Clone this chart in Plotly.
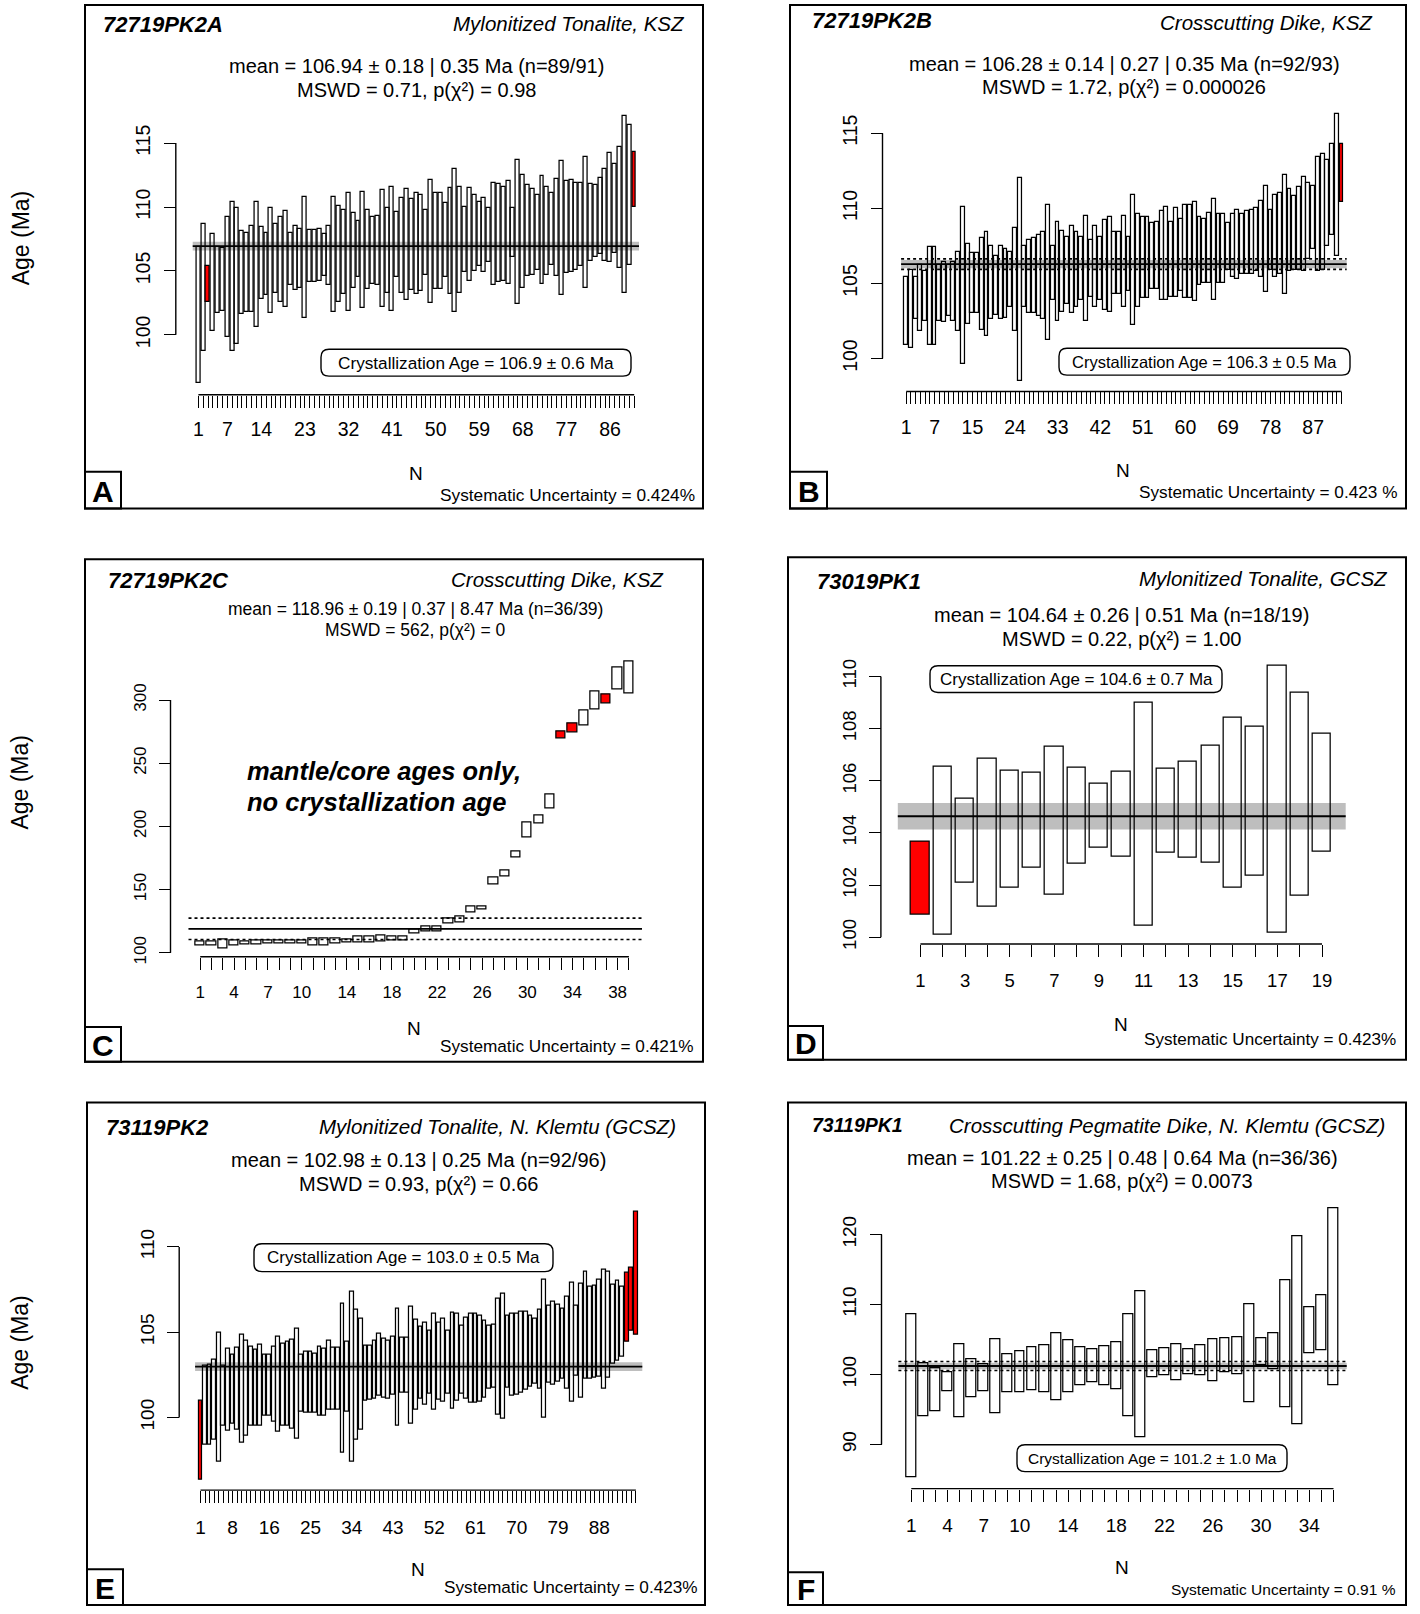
import plotly.graph_objects as go

W, H = 1420, 1614
FONT = "Liberation Sans, Arial, Helvetica, sans-serif"

# ---------------- data (upper / lower limits of each analysis, Ma) ----------------
A_upper = [106.9, 108.7, 105.4, 107.9, 106.9, 106.8, 109.2, 110.4, 109.9, 108.1,
           108.0, 108.5, 110.4, 108.4, 108.0, 109.9, 108.7, 109.2, 109.7, 108.0,
           108.5, 108.3, 110.8, 108.2, 108.2, 108.3, 107.9, 108.5, 110.8, 110.1,
           109.8, 111.1, 109.5, 108.9, 111.2, 109.8, 109.2, 109.3, 111.3, 109.9,
           111.6, 109.6, 110.7, 111.4, 110.6, 111.1, 110.9, 109.8, 112.1, 111.1,
           111.1, 110.3, 111.5, 113.0, 111.6, 110.0, 111.5, 110.9, 110.4, 110.7,
           109.9, 111.9, 111.8, 111.6, 112.0, 109.9, 113.7, 112.5, 111.7, 111.4,
           110.9, 112.4, 111.6, 111.1, 112.2, 113.6, 112.0, 112.1, 111.9, 111.9,
           113.9, 111.8, 111.7, 112.3, 113.0, 114.2, 113.4, 114.7, 117.1, 116.4,
           114.3]
A_lower = [96.2, 98.7, 102.6, 100.3, 101.7, 101.9, 99.8, 98.7, 99.3, 101.6,
           101.8, 101.8, 100.6, 102.8, 103.1, 101.7, 103.3, 102.6, 102.2, 103.9,
           103.5, 103.7, 101.3, 104.1, 104.1, 104.2, 104.6, 103.9, 101.8, 102.6,
           103.2, 101.9, 103.7, 104.5, 102.1, 103.6, 104.0, 103.9, 102.2, 103.3,
           101.9, 104.5, 103.3, 102.7, 103.5, 103.2, 103.4, 104.7, 102.5, 103.6,
           103.6, 104.5, 103.2, 101.8, 103.3, 104.9, 104.2, 105.0, 105.4, 104.9,
           105.7, 103.9, 104.1, 104.2, 104.0, 106.1, 102.4, 103.7, 104.6, 104.7,
           105.1, 104.0, 104.7, 105.5, 104.6, 103.1, 104.8, 104.9, 105.1, 105.4,
           103.7, 105.8, 106.1, 106.3, 105.8, 105.7, 106.4, 105.2, 103.3, 105.5,
           110.0]
A_rejected = [3, 91]
A_xlabels = [1, 7, 14, 23, 32, 41, 50, 59, 68, 77, 86]
A_yticks = [100, 105, 110, 115]

B_upper = [105.4, 105.9, 105.4, 106.2, 105.8, 107.4, 107.4, 106.2, 106.4, 106.2,
           106.4, 107.1, 110.1, 107.6, 107.0, 107.0, 108.0, 108.4, 107.5, 106.8,
           107.5, 107.3, 107.1, 108.7, 112.0, 107.5, 107.9, 108.0, 108.2, 108.4,
           110.2, 107.5, 109.1, 108.5, 108.1, 108.8, 108.4, 108.1, 109.5, 107.9,
           108.8, 108.1, 109.2, 109.4, 108.4, 108.4, 109.5, 108.1, 110.9, 109.6,
           109.4, 109.4, 109.0, 109.1, 109.8, 110.1, 109.1, 110.0, 109.3, 110.2,
           110.2, 110.4, 109.4, 109.3, 109.7, 110.6, 109.6, 109.6, 109.0, 109.6,
           109.9, 109.6, 109.8, 109.9, 110.0, 110.5, 111.5, 109.9, 110.9, 111.0,
           112.2, 111.3, 110.8, 111.4, 112.1, 111.7, 111.5, 113.4, 113.6, 113.2,
           114.3, 116.3, 114.3]
B_lower = [100.9, 100.7, 102.6, 101.8, 102.5, 100.9, 100.9, 102.5, 102.4, 102.8,
           102.5, 101.8, 99.6, 102.3, 103.0, 103.0, 101.9, 101.5, 102.6, 102.9,
           102.6, 102.7, 103.4, 101.8, 98.5, 103.4, 103.0, 103.0, 102.8, 102.6,
           101.2, 103.9, 102.5, 103.1, 103.6, 103.0, 103.4, 103.9, 102.5, 104.1,
           103.4, 103.9, 103.2, 103.1, 104.3, 104.3, 103.4, 104.5, 102.2, 103.4,
           104.0, 104.0, 104.6, 104.6, 103.9, 103.9, 104.1, 104.1, 104.5, 104.0,
           104.0, 103.8, 104.9, 105.0, 105.0, 103.9, 105.0, 105.0, 105.9, 105.4,
           105.3, 105.6, 105.6, 105.6, 105.8, 105.4, 104.4, 105.9, 105.4, 105.6,
           104.3, 105.8, 105.9, 105.9, 105.8, 106.6, 107.3, 105.8, 105.9, 107.5,
           108.2, 106.8, 110.4]
B_rejected = [93]
B_xlabels = [1, 7, 15, 24, 33, 42, 51, 60, 69, 78, 87]
B_yticks = [100, 105, 110, 115]

C_upper = [108.6, 108.6, 110.7, 109.9, 109.2, 109.9, 109.4, 109.4, 109.9, 109.9,
           111.2, 111.2, 111.2, 110.7, 112.5, 113.1, 113.9, 113.1, 113.1, 118.3,
           121.2, 121.2, 126.9, 128.8, 136.6, 136.9, 159.6, 164.8, 180.5, 203.3,
           208.8, 225.0, 275.2, 281.2, 291.6, 306.5, 304.7, 325.6, 330.3]
C_lower = [106.0, 106.0, 103.4, 106.0, 106.5, 106.5, 107.1, 107.1, 107.3, 107.3,
           106.0, 106.0, 107.3, 107.8, 107.8, 107.8, 109.2, 109.9, 109.9, 115.2,
           117.0, 117.0, 123.0, 124.3, 132.2, 134.0, 153.9, 160.4, 175.3, 191.0,
           202.0, 214.5, 269.4, 274.1, 279.9, 292.9, 296.9, 308.6, 305.2]
C_rejected = [33, 34, 37]
C_xlabels = [1, 4, 7, 10, 14, 18, 22, 26, 30, 34, 38]
C_yticks = [100, 150, 200, 250, 300]

D_upper = [103.65, 106.55, 105.32, 106.85, 106.39, 106.30, 107.32, 106.49, 105.88, 106.35,
           108.99, 106.48, 106.75, 107.35, 108.43, 108.09, 110.40, 109.37, 107.81]
D_lower = [100.85, 100.10, 102.08, 101.19, 101.91, 102.65, 101.63, 102.81, 103.43, 103.08,
           100.45, 103.23, 103.07, 102.85, 101.90, 102.36, 100.17, 101.59, 103.30]
D_rejected = [1]
D_xlabels = [1, 3, 5, 7, 9, 11, 13, 15, 17, 19]
D_yticks = [100, 102, 104, 106, 108, 110]

E_upper = [100.97, 103.04, 103.08, 103.39, 104.95, 103.04, 104.00, 103.67, 104.06, 104.85,
           104.48, 104.12, 103.98, 104.26, 103.67, 103.67, 104.12, 104.71, 104.32, 104.42,
           104.56, 105.21, 103.67, 103.87, 103.87, 103.73, 104.12, 104.02, 104.48, 104.06,
           104.06, 106.69, 104.42, 107.38, 106.29, 105.76, 104.18, 104.22, 104.48, 104.91,
           104.58, 104.52, 104.75, 106.39, 104.67, 104.67, 106.49, 105.70, 105.31, 105.54,
           105.07, 106.09, 105.54, 105.76, 105.07, 106.15, 106.06, 105.40, 105.84, 106.09,
           106.09, 105.96, 105.64, 105.36, 105.44, 106.98, 107.22, 105.96, 106.09, 106.09,
           106.19, 106.19, 105.96, 105.76, 106.29, 108.07, 106.55, 106.78, 106.63, 106.39,
           107.08, 107.87, 106.53, 107.81, 108.52, 107.67, 107.73, 108.07, 108.66, 108.56,
           107.77, 108.01, 107.67, 108.50, 108.76, 112.07]
E_lower = [96.37, 98.40, 98.40, 98.70, 97.42, 99.49, 99.23, 99.63, 99.29, 98.50,
           98.93, 99.49, 99.53, 99.49, 100.08, 100.08, 99.72, 99.15, 99.53, 99.53,
           99.33, 98.76, 100.32, 100.28, 100.28, 100.28, 100.12, 100.08, 100.47, 100.47,
           100.47, 97.91, 100.32, 97.38, 98.70, 99.29, 100.97, 101.03, 101.10, 101.26,
           101.16, 101.10, 101.30, 99.53, 101.46, 101.46, 99.63, 100.47, 101.07, 100.73,
           101.36, 100.47, 101.03, 100.91, 101.36, 100.53, 101.00, 101.40, 101.07, 100.83,
           100.83, 100.91, 101.16, 101.66, 101.76, 100.14, 99.94, 101.72, 101.26, 101.30,
           101.46, 101.60, 101.80, 101.99, 101.70, 99.98, 102.05, 101.89, 102.09, 102.29,
           101.70, 100.93, 102.45, 101.16, 102.29, 102.29, 102.35, 102.41, 101.70, 102.35,
           103.14, 103.29, 103.53, 104.42, 105.05, 104.85]
E_rejected = [1, 94, 95, 96]
E_xlabels = [1, 8, 16, 25, 34, 43, 52, 61, 70, 79, 88]
E_yticks = [100, 105, 110]

F_upper = [108.60, 101.63, 100.87, 100.29, 104.28, 102.21, 101.39, 105.00, 102.84, 103.32,
           103.94, 104.13, 105.82, 104.95, 103.94, 103.56, 103.99, 104.62, 108.56, 111.92,
           103.51, 103.75, 104.33, 103.56, 104.13, 105.00, 105.10, 105.29, 110.05, 105.19,
           105.91, 113.51, 119.76, 109.66, 111.35, 123.70]
F_lower = [85.24, 94.04, 94.76, 97.64, 93.89, 96.78, 97.55, 94.52, 97.50, 97.50,
           97.74, 97.50, 96.35, 97.50, 98.46, 98.85, 98.51, 97.88, 94.04, 91.06,
           99.57, 99.81, 99.18, 100.05, 99.81, 99.09, 100.29, 100.05, 95.96, 101.25,
           100.67, 95.34, 92.84, 103.03, 103.41, 98.51]
F_rejected = []
F_xlabels = [1, 4, 7, 10, 14, 18, 22, 26, 30, 34]
F_yticks = [90, 100, 110, 120]

# weighted means and uncertainties (mean, band half-width, dotted half-width)
A_mean = [106.94, 0.35, None]
B_mean = [106.28, 0.27, 0.35]
C_mean = [118.96, 0.37, 8.47]
D_mean = [104.64, 0.51, None]
E_mean = [102.98, 0.25, None]
F_mean = [101.22, 0.48, 0.64]

# ---------------- panel geometry / texts (pixel positions in the 1420x1614 page) ----------------
panels = [
    dict(letter="A", upper=A_upper, lower=A_lower, rej=A_rejected, xlabels=A_xlabels, yticks=A_yticks, mean=A_mean,
         yref=(100, 336.5, 115, 143.8), xbar=(198.4, 634.2), xdom=(192.7, 639.0), yaxis_x=175.8, xaxis_y=396.7, ytop=117.9,
         tick=19.5, xstand=5, frame=(85, 5, 703, 511), lbox=(85, 474, 121, 511),
         sid="72719PK2A", sid_xy=(101, 25), desc="Mylonitized Tonalite, KSZ", desc_xy=(687, 24),
         stat1="mean = 106.94 ± 0.18 | 0.35 Ma (n=89/91)", stat2="MSWD = 0.71, p(χ²) = 0.98",
         stat_x=416, stat_y=(66, 90), stat_size=20,
         n_xy=(416, 476), sys="Systematic Uncertainty = 0.424%", sys_xy=(697, 497), sys_size=17.3,
         cryst="Crystallization Age = 106.9 ± 0.6 Ma", cbox=(321, 351, 631, 378), csize=17.2),
    dict(letter="B", upper=B_upper, lower=B_lower, rej=B_rejected, xlabels=B_xlabels, yticks=B_yticks, mean=B_mean,
         yref=(100, 360.3, 115, 133.8), xbar=(906.2, 1341.6), xdom=(901.1, 1346.7), yaxis_x=882.5, xaxis_y=393.4, ytop=117.0,
         tick=19.5, xstand=6, frame=(790, 5, 1406, 511), lbox=(790, 474, 827, 511),
         sid="72719PK2B", sid_xy=(810, 21), desc="Crosscutting Dike, KSZ", desc_xy=(1375, 23),
         stat1="mean = 106.28 ± 0.14 | 0.27 | 0.35 Ma (n=92/93)", stat2="MSWD = 1.72, p(χ²) = 0.000026",
         stat_x=1124, stat_y=(64, 87), stat_size=20,
         n_xy=(1123, 473), sys="Systematic Uncertainty = 0.423 %", sys_xy=(1399, 494), sys_size=17.2,
         cryst="Crystallization Age = 106.3 ± 0.5 Ma", cbox=(1059, 350, 1350, 377), csize=16.5),
    dict(letter="C", upper=C_upper, lower=C_lower, rej=C_rejected, xlabels=C_xlabels, yticks=C_yticks, mean=C_mean,
         yref=(100, 957.5, 300, 703.5), xbar=(200.2, 628.9), xdom=(188.5, 642.0), yaxis_x=170.5, xaxis_y=961.5, ytop=340,
         tick=17, xstand=8, frame=(85, 562, 703, 1067), lbox=(85, 1032, 121, 1067),
         sid="72719PK2C", sid_xy=(106, 583), desc="Crosscutting Dike, KSZ", desc_xy=(666, 582),
         stat1="mean = 118.96 ± 0.19 | 0.37 | 8.47 Ma (n=36/39)", stat2="MSWD = 562, p(χ²) = 0",
         stat_x=415, stat_y=(612, 633), stat_size=17.5,
         n_xy=(414, 1034), sys="Systematic Uncertainty = 0.421%", sys_xy=(696, 1051), sys_size=17.2,
         cryst=None),
    dict(letter="D", upper=D_upper, lower=D_lower, rej=D_rejected, xlabels=D_xlabels, yticks=D_yticks, mean=D_mean,
         yref=(100, 941.9, 110, 679.9), xbar=(920.4, 1322.0), xdom=(897.8, 1345.7), yaxis_x=880.9, xaxis_y=948.7, ytop=110.8,
         tick=18.5, xstand=8, frame=(788, 560, 1406, 1065), lbox=(788, 1031, 823, 1065),
         sid="73019PK1", sid_xy=(815, 584), desc="Mylonitized Tonalite, GCSZ", desc_xy=(1390, 581),
         stat1="mean = 104.64 ± 0.26 | 0.51 Ma (n=18/19)", stat2="MSWD = 0.22, p(χ²) = 1.00",
         stat_x=1121, stat_y=(618, 642), stat_size=20,
         n_xy=(1121, 1030), sys="Systematic Uncertainty = 0.423%", sys_xy=(1398, 1045), sys_size=17.1,
         cryst="Crystallization Age = 104.6 ± 0.7 Ma", cbox=(930, 669, 1222, 696), csize=17),
    dict(letter="E", upper=E_upper, lower=E_lower, rej=E_rejected, xlabels=E_xlabels, yticks=E_yticks, mean=E_mean,
         yref=(100, 1424.5, 110, 1253.1), xbar=(200.5, 635.9), xdom=(195.1, 642.3), yaxis_x=179.2, xaxis_y=1497.5, ytop=112.7,
         tick=19, xstand=8, frame=(87, 1108, 705, 1613), lbox=(87, 1577, 123, 1613),
         sid="73119PK2", sid_xy=(104, 1133), desc="Mylonitized Tonalite, N. Klemtu (GCSZ)", desc_xy=(678, 1132),
         stat1="mean = 102.98 ± 0.13 | 0.25 Ma (n=92/96)", stat2="MSWD = 0.93, p(χ²) = 0.66",
         stat_x=418, stat_y=(1166, 1190), stat_size=20,
         n_xy=(418, 1577), sys="Systematic Uncertainty = 0.423%", sys_xy=(700, 1595), sys_size=17.2,
         cryst="Crystallization Age = 103.0 ± 0.5 Ma", cbox=(254, 1250, 553, 1278), csize=17),
    dict(letter="F", upper=F_upper, lower=F_lower, rej=F_rejected, xlabels=F_xlabels, yticks=F_yticks, mean=F_mean,
         yref=(90, 1451.7, 120, 1240.7), xbar=(911.3, 1333.5), xdom=(898.4, 1346.7), yaxis_x=881.5, xaxis_y=1496.0, ytop=124.6,
         tick=19, xstand=8, frame=(788, 1108, 1406, 1613), lbox=(788, 1580, 823, 1613),
         sid="73119PK1", sid_xy=(810, 1131), desc="Crosscutting Pegmatite Dike, N. Klemtu (GCSZ)", desc_xy=(1387, 1131),
         stat1="mean = 101.22 ± 0.25 | 0.48 | 0.64 Ma (n=36/36)", stat2="MSWD = 1.68, p(χ²) = 0.0073",
         stat_x=1122, stat_y=(1164, 1187), stat_size=20,
         n_xy=(1122, 1575), sys="Systematic Uncertainty = 0.91 %", sys_xy=(1398, 1597), sys_size=15.5,
         cryst="Crystallization Age = 101.2 ± 1.0 Ma", cbox=(1017, 1452, 1287, 1479), csize=15.5),
]
ID_SIZES = {"A": 22, "B": 22, "C": 22, "D": 22, "E": 22, "F": 19.5}


def PX(p):
    return p / W


def PY(p):
    return 1 - p / H


fig = go.Figure()
shapes = []
annotations = []


def ann(text, x, y, size, xanchor="center", yanchor="middle", **kw):
    annotations.append(dict(text=text, x=PX(x), y=PY(y), xref="paper", yref="paper", showarrow=False,
                            xanchor=xanchor, yanchor=yanchor,
                            font=dict(family=FONT, size=size, color="black"), **kw))


def rect_px(x0, y0, x1, y1, width=2):
    shapes.append(dict(type="rect", xref="paper", yref="paper", x0=PX(x0), x1=PX(x1), y0=PY(y1), y1=PY(y0),
                       line=dict(color="black", width=width), fillcolor="rgba(0,0,0,0)", layer="above"))


def round_box(x0, y0, x1, y1, r=8):
    X, Y = PX, PY
    path = (f"M {X(x0 + r)},{Y(y0)} L {X(x1 - r)},{Y(y0)} Q {X(x1)},{Y(y0)} {X(x1)},{Y(y0 + r)} "
            f"L {X(x1)},{Y(y1 - r)} Q {X(x1)},{Y(y1)} {X(x1 - r)},{Y(y1)} "
            f"L {X(x0 + r)},{Y(y1)} Q {X(x0)},{Y(y1)} {X(x0)},{Y(y1 - r)} "
            f"L {X(x0)},{Y(y0 + r)} Q {X(x0)},{Y(y0)} {X(x0 + r)},{Y(y0)} Z")
    shapes.append(dict(type="path", xref="paper", yref="paper", path=path,
                       line=dict(color="black", width=1.4), fillcolor="white", layer="above"))


layout_axes = {}
for i, p in enumerate(panels):
    sfx = "" if i == 0 else str(i + 1)
    n = len(p["upper"])
    idx = list(range(1, n + 1))

    # y scale
    v1, p1, v2, p2 = p["yref"]
    ky = (p1 - p2) / (v2 - v1)
    ylo = v1 - (p["xaxis_y"] - p1) / ky
    ytop = p["ytop"]
    ytop_px = p1 - (ytop - v1) * ky
    # x scale
    b1, bn = p["xbar"]
    kx = (bn - b1) / (n - 1)
    xd0, xd1 = p["xdom"]
    xr = [1 + (xd0 - b1) / kx, 1 + (xd1 - b1) / kx]

    colors = ["#FF0000" if k in p["rej"] else "rgba(0,0,0,0)" for k in idx]
    fig.add_trace(go.Bar(
        x=idx, y=[u - l for u, l in zip(p["upper"], p["lower"])], base=p["lower"], width=0.82,
        marker=dict(color=colors, line=dict(color="black", width=1.25)),
        xaxis="x" + sfx, yaxis="y" + sfx, hoverinfo="skip", showlegend=False))

    tfont = dict(family=FONT, size=p["tick"], color="black")
    layout_axes["xaxis" + sfx] = dict(
        domain=[PX(xd0), PX(xd1)], range=xr, anchor="y" + sfx, showline=False, showgrid=False, zeroline=False,
        ticks="outside", ticklen=12, tickwidth=1.3, tickcolor="black", tickmode="array", tickvals=p["xlabels"],
        ticktext=[str(k) for k in p["xlabels"]], tickangle=0, tickfont=tfont,
        minor=dict(tickmode="array", tickvals=idx, ticks="outside", ticklen=12, tickwidth=1.3,
                   tickcolor="black", showgrid=False),
        ticklabelstandoff=p["xstand"], fixedrange=True)
    layout_axes["yaxis" + sfx] = dict(
        domain=[PY(p["xaxis_y"]), PY(ytop_px)], range=[ylo, ytop], anchor="free", position=PX(p["yaxis_x"]),
        showline=False, showgrid=False, zeroline=False, ticks="outside", ticklen=12, tickwidth=1.3,
        tickcolor="black", tickmode="array", tickvals=p["yticks"], ticktext=[str(v) for v in p["yticks"]],
        tickangle=-90, tickfont=tfont, ticklabelstandoff=6, fixedrange=True)

    xdom_ref = ("x" if i == 0 else "x" + sfx) + " domain"
    yref = "y" + sfx
    mean, band, dots = p["mean"]
    shapes.append(dict(type="rect", xref=xdom_ref, yref=yref, x0=0, x1=1, y0=mean - band, y1=mean + band,
                       fillcolor="#BEBEBE", line=dict(width=0), layer="below"))
    if dots is not None:
        for s in (-1, 1):
            shapes.append(dict(type="line", xref=xdom_ref, yref=yref, x0=0, x1=1, y0=mean + s * dots,
                               y1=mean + s * dots, line=dict(color="black", width=1.6, dash="dot"), layer="above"))
    shapes.append(dict(type="line", xref=xdom_ref, yref=yref, x0=0, x1=1, y0=mean, y1=mean,
                       line=dict(color="black", width=1.8), layer="above"))
    # axis lines (R style, only between extreme ticks)
    shapes.append(dict(type="line", xref="paper", yref=yref, x0=PX(p["yaxis_x"]), x1=PX(p["yaxis_x"]),
                       y0=p["yticks"][0], y1=p["yticks"][-1], line=dict(color="black", width=1.4)))
    shapes.append(dict(type="line", xref="x" + sfx, yref="paper", x0=1, x1=n, y0=PY(p["xaxis_y"]),
                       y1=PY(p["xaxis_y"]), line=dict(color="black", width=1.4)))

    # frames
    fx0, fy0, fx1, fy1 = p["frame"]
    rect_px(fx0, fy0, fx1, fy1, width=2)
    lx0, ly0, lx1, ly1 = p["lbox"]
    rect_px(lx0, ly0, lx1, ly1, width=2)
    ann("<b>" + p["letter"] + "</b>", (lx0 + lx1) / 2, (ly0 + ly1) / 2 + 1, 30)

    # texts
    ann("<b><i>" + p["sid"] + "</i></b>", p["sid_xy"][0], p["sid_xy"][1], ID_SIZES[p["letter"]], xanchor="left")
    ann("<i>" + p["desc"] + "</i>", p["desc_xy"][0], p["desc_xy"][1], 20.5, xanchor="right")
    ann(p["stat1"], p["stat_x"], p["stat_y"][0], p["stat_size"])
    ann(p["stat2"], p["stat_x"], p["stat_y"][1], p["stat_size"])
    ann("N", p["n_xy"][0], p["n_xy"][1], 19)
    ann(p["sys"], p["sys_xy"][0], p["sys_xy"][1], p["sys_size"], xanchor="right")
    if p["cryst"]:
        cx0, cy0, cx1, cy1 = p["cbox"]
        round_box(cx0, cy0, cx1, cy1)
        ann(p["cryst"], (cx0 + cx1) / 2, (cy0 + cy1) / 2, p["csize"])

# panel C comment
ann("<b><i>mantle/core ages only,</i></b>", 245, 775, 25.5, xanchor="left")
ann("<b><i>no crystallization age</i></b>", 245, 806, 25.5, xanchor="left")

# shared y labels
for yy in (239, 786, 1349):
    ann("Age (Ma)", 20.5, yy, 23, textangle=-90)

fig.update_layout(
    width=W, height=H, margin=dict(l=0, r=0, t=0, b=0), autosize=False,
    paper_bgcolor="white", plot_bgcolor="rgba(0,0,0,0)",
    font=dict(family=FONT, color="black"), showlegend=False,
    shapes=shapes, annotations=annotations, bargap=0, **layout_axes)

fig.write_html("out.html")
